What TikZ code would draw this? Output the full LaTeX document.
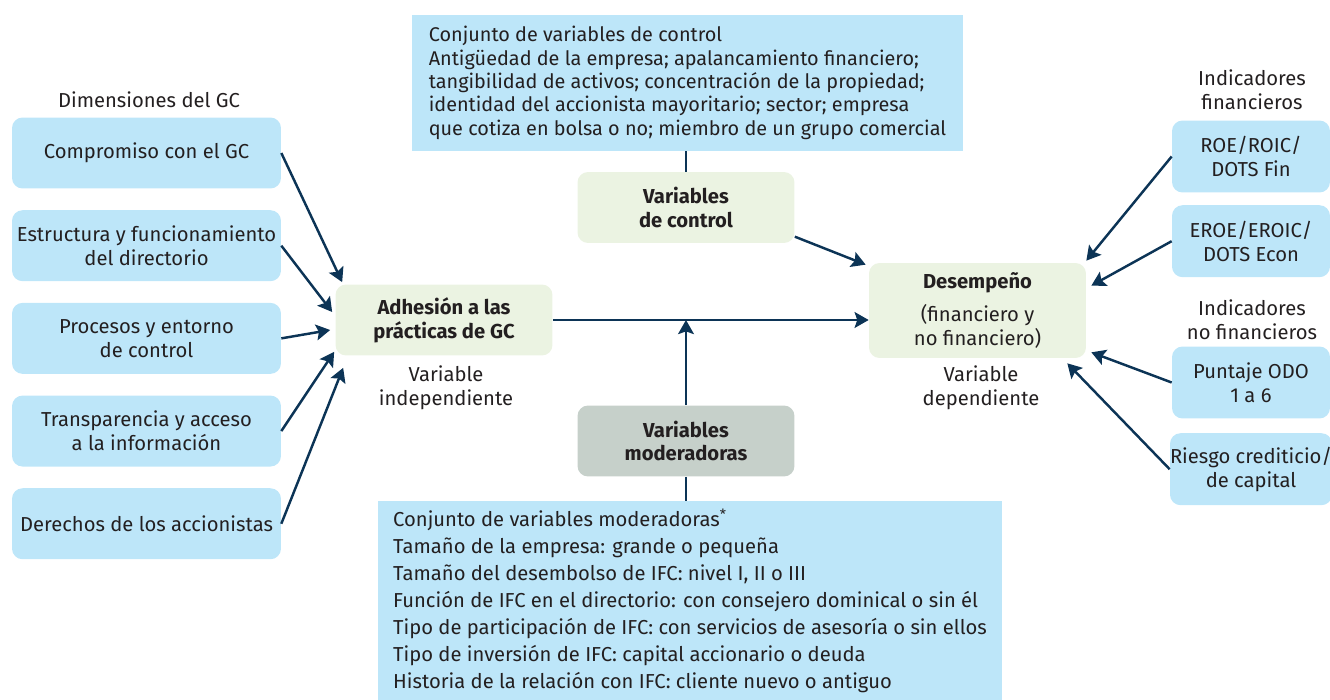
\documentclass[tikz,border=0pt]{standalone}
\usepackage{fontspec}
\setmainfont{Fira Sans}
\usepackage{xcolor}
\usepackage{tikz}
\usetikzlibrary{arrows.meta, positioning, calc}
\definecolor{gcblue}{HTML}{BDE6F9}
\definecolor{gcgreen}{HTML}{EBF3E2}
\definecolor{gcgray}{HTML}{C6D0CA}
\definecolor{gcnavy}{HTML}{0C3456}
\definecolor{gctext}{HTML}{231F20}
\tikzset{
dimbox/.style={
    rectangle,
    fill=gcblue,
    rounded corners=6pt,
    minimum width=5.38cm,
    minimum height=1.42cm,
    align=center,
    inner sep=2pt,
    font=\fontsize{11.5}{13.5}\selectfont
},
indbox/.style={
    dimbox,
    inner xsep=0pt,
    minimum width=3.16cm,
    minimum height=1.44cm
},
varbox/.style={
    rectangle,
    fill=gcgreen,
    rounded corners=6pt,
    minimum width=4.34cm,
    minimum height=1.42cm,
    align=center,
    font=\fontsize{11.5}{13.5}\selectfont\bfseries
},
listbox/.style={
    rectangle,
    fill=gcblue,
    align=left,
    inner sep=0pt
},
captxt/.style={
    align=center,
    font=\fontsize{11.5}{13.5}\selectfont
},
link/.style={->, draw=gcnavy, line width=1.4pt}
}

\begin{document}
\begin{tikzpicture}[
        x=0.02cm, y=0.02cm,
        >={Stealth[length=8pt, width=9pt, inset=1.5pt]},
        node distance=0.42cm,
        text=gctext
    ]
    \useasboundingbox (0,0) rectangle (1330,-700);

    % node placement
    \node[captxt] (dimtitle) at (149,-100) {Dimensiones del GC};
    \node[dimbox] (D1) at (146.5,-153) {Compromiso con el GC};
    \node[dimbox, below=of D1] (D2) {Estructura y funcionamiento\\del directorio};
    \node[dimbox, below=of D2] (D3) {Procesos y entorno\\de control};
    \node[dimbox, below=of D3] (D4) {Transparencia y acceso\\a la información};
    \node[dimbox, below=of D4] (D5) {Derechos de los accionistas};

    \node[varbox] (adh) at (444,-320) {Adhesión a las\\prácticas de GC};
    \node[captxt] (indep) at (446,-388) {Variable\\independiente};

    \node[listbox, minimum width=11.02cm, minimum height=2.72cm,
          font=\fontsize{11.3}{13.3}\selectfont] (ctrllist) at (687.5,-83)
        {Conjunto de variables de control\\
         Antigüedad de la empresa; apalancamiento financiero;\\
         tangibilidad de activos; concentración de la propiedad;\\
         identidad del accionista mayoritario; sector; empresa\\
         que cotiza en bolsa o no; miembro de un grupo comercial};
    \node[varbox] (ctrlvar) at (686,-207.5) {Variables\\de control};

    \node[varbox, fill=gcgray] (moder) at (686,-441) {Variables\\moderadoras};
    \node[listbox, minimum width=12.48cm, minimum height=3.98cm,
          font=\fontsize{11.5}{15.3}\selectfont] (modlist) at (690,-600.5)
        {Conjunto de variables moderadoras\textsuperscript{*}\\
         Tamaño de la empresa: grande o pequeña\\
         Tamaño del desembolso de IFC: nivel I, II o III\\
         Función de IFC en el directorio: con consejero dominical o sin él\\
         Tipo de participación de IFC: con servicios de asesoría o sin ellos\\
         Tipo de inversión de IFC: capital accionario o deuda\\
         Historia de la relación con IFC: cliente nuevo o antiguo};

    \node[varbox, minimum height=1.9cm, font=\fontsize{11.5}{13.5}\selectfont] (desem) at (977.5,-310.5)
        {{\bfseries Desempeño}\\[5pt](financiero y\\no financiero)};
    \node[captxt] (dep) at (981,-388) {Variable\\dependiente};

    \node[captxt] (fintitle) at (1252,-90) {Indicadores\\financieros};
    \node[indbox] (I1) at (1251,-156.5) {ROE/ROIC/\\DOTS Fin};
    \node[indbox, below=0.24cm of I1] (I2) {EROE/EROIC/\\DOTS Econ};
    \node[captxt] (nofintitle) at (1252,-320) {Indicadores\\no financieros};
    \node[indbox] (I3) at (1251,-382.5) {Puntaje ODO\\1 a 6};
    \node[indbox, below=0.28cm of I3] (I4) {Riesgo crediticio/\\de capital};

    % edges
    \draw[link] (D1.east) -- ($(adh.north west)+(7,2)$);
    \draw[link] (D2.east) -- ($(adh.west)+(-3,8)$);
    \draw[link] (D3.east) -- ($(adh.west)+(-5,-10)$);
    \draw[link] (D4.east) -- ($(adh.south west)+(-1,4)$);
    \draw[link] (D5.east) -- ($(adh.south west)+(8,-12)$);

    \draw[link] (adh.east) -- (adh.east -| desem.west);
    \draw[draw=gcnavy, line width=1.4pt] (ctrllist.south -| ctrlvar.north) -- (ctrlvar.north);
    \draw[link] (ctrlvar.-15) -- ($(desem.north west)+(-3,-2)$);
    \draw[link] (moder.north) -- (moder.north |- adh.east);
    \draw[draw=gcnavy, line width=1.4pt] (moder.south) -- (moder.south |- modlist.north);

    \draw[link] (I1.west) -- ($(desem.north east)+(0,2)$);
    \draw[link] (I2.west) -- ($(desem.north east)+(5,-23)$);
    \draw[link] (I3.west) -- ($(desem.south east)+(5,6)$);
    \draw[link] (I4.west) -- ($(desem.south east)+(-19,-5)$);

    \end{tikzpicture}
\end{document}
